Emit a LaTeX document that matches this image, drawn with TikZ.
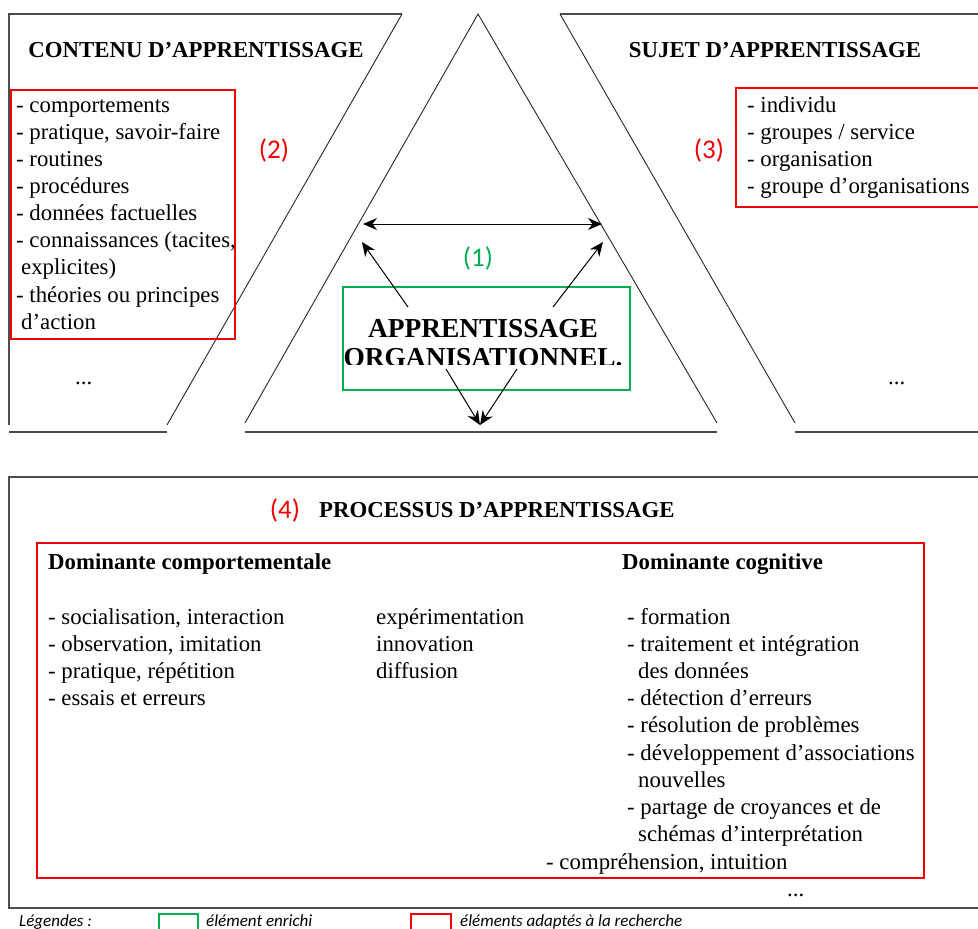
\documentclass[tikz,border=0pt]{standalone}
\usepackage{fontspec}
\setmainfont{Liberation Serif}
\newfontfamily\calibfont{Carlito}
\usetikzlibrary{arrows.meta,positioning}
\definecolor{boxred}{RGB}{240,0,0}
\definecolor{boxgreen}{RGB}{0,176,80}

\begin{document}
\begin{tikzpicture}[x=1pt,y=-1pt,
  panel/.style={black!70, line width=1.2pt},
  thinline/.style={black!85, line width=0.9pt},
  redbox/.style={draw=boxred, line width=2pt},
  greenbox/.style={draw=boxgreen, line width=2pt},
  txt/.style={font=\fontsize{22.8}{27.15}\selectfont, inner sep=0pt, align=left, anchor=base west},
  heading/.style={font=\fontsize{22.8}{27.2}\selectfont\bfseries, inner sep=0pt},
  numtag/.style={font=\calibfont\fontsize{27}{30}\selectfont, inner sep=0pt},
  legendtxt/.style={font=\calibfont\itshape\fontsize{17}{18}\selectfont, inner sep=0pt, anchor=base west},
  arr/.style={-{Stealth[length=14pt,width=12pt]}, line width=1pt}
]
  \useasboundingbox (0,0) rectangle (978,929);

  % upper panels
  \draw[panel] (9,425) -- (9,14) -- (402,14);
  \draw[thinline] (402,14) -- (167,425);
  \draw[panel] (9,432) -- (167,432);
  \draw[thinline] (245,423) -- (478,14) -- (717,423);
  \draw[panel] (245,432) -- (717,432);
  \draw[panel] (982,14) -- (560,14);
  \draw[thinline] (560,14) -- (795,423);
  \draw[panel] (795,432) -- (982,432);

  \node[heading, anchor=base] (contenu) at (196,57) {CONTENU D’APPRENTISSAGE};
  \node[heading, anchor=base] (sujet) at (775,57) {SUJET D’APPRENTISSAGE};

  % (2) contenu -- lists are placed by their last baseline
  \draw[redbox] (11,90) rectangle (235,339);
  \node[txt] (contlist) at (16,329.2) {- comportements\\- pratique, savoir-faire\\- routines\\- procédures\\- données factuelles\\- connaissances (tacites,\\\hspace*{5pt}explicites)\\- théories ou principes\\\hspace*{5pt}d’action};
  \node[numtag, text=boxred] (n2) at (274,150) {(2)};
  \node[txt] (dots1) at (75,384) {...};

  % (3) sujet
  \draw[redbox] (736,88) rectangle (982,207);
  \node[txt] (sujlist) at (747,193.5) {- individu\\- groupes / service\\- organisation\\- groupe d’organisations};
  \node[numtag, text=boxred] (n3) at (709,150) {(3)};
  \node[txt] (dots2) at (888,384) {...};

  % (1) centre
  \node[greenbox, minimum width=287pt, minimum height=103pt, inner sep=0pt] (org) at (486.5,338.5) {};
  \begin{scope}
    \clip (343,287) rectangle (630,364);
    \node[font=\fontsize{27.4}{29}\selectfont\bfseries, align=center, anchor=base, inner sep=0pt] (orgtxt) at (483,366) {APPRENTISSAGE\\ORGANISATIONNEL.};
  \end{scope}
  \node[numtag, text=boxgreen] (n1) at (478,258) {(1)};

  \coordinate (hl) at (363,224);
  \coordinate (hr) at (602,224);
  \coordinate (al) at (362,242);
  \coordinate (ar) at (603,242);
  \coordinate (sl) at (408,307);
  \coordinate (sr) at (553,307);
  \coordinate (bl) at (446,369);
  \coordinate (br) at (517,369);
  \coordinate (bt) at (480,425);
  \draw[{Stealth[length=14pt,width=12pt]}-{Stealth[length=14pt,width=12pt]}, line width=1pt] (hl) -- (hr);
  \draw[arr] (sl) -- (al);
  \draw[arr] (sr) -- (ar);
  \draw[arr] (bl) -- (bt);
  \draw[arr] (br) -- (bt);

  % (4) processus
  \draw[panel] (982,477) -- (9,477) -- (9,908) -- (982,908);
  \node[numtag, text=boxred] (n4) at (285,510) {(4)};
  \node[heading, anchor=base west] (proc) at (319,517) {PROCESSUS D’APPRENTISSAGE};
  \draw[redbox] (37,543) rectangle (924,878);
  \node[heading, anchor=base west] (comp) at (48,569) {Dominante comportementale};
  \node[heading, anchor=base west] (cogn) at (622,569) {Dominante cognitive};
  \node[txt] (complist) at (48,705.5) {- socialisation, interaction\\- observation, imitation\\- pratique, répétition\\- essais et erreurs};
  \node[txt] (midlist) at (376,678.3) {expérimentation\\innovation\\diffusion};
  \node[txt] (cognlist) at (627,841.5) {- formation\\- traitement et intégration\\\hspace*{11pt}des données\\- détection d’erreurs\\- résolution de problèmes\\- développement d’associations\\\hspace*{11pt}nouvelles\\- partage de croyances et de\\\hspace*{11pt}schémas d’interprétation};
  \node[txt] (intuit) at (546,869) {- compréhension, intuition};
  \node[txt] (dots3) at (787,896) {...};

  % legende
  \node[legendtxt] (leg) at (19,926) {Légendes :};
  \draw[greenbox] (159,914) rectangle (198,940);
  \node[legendtxt] (leggreen) at (206,926) {élément enrichi};
  \draw[redbox] (411,914) rectangle (451,940);
  \node[legendtxt] (legred) at (460,926) {éléments adaptés à la recherche};
\end{tikzpicture}
\end{document}
